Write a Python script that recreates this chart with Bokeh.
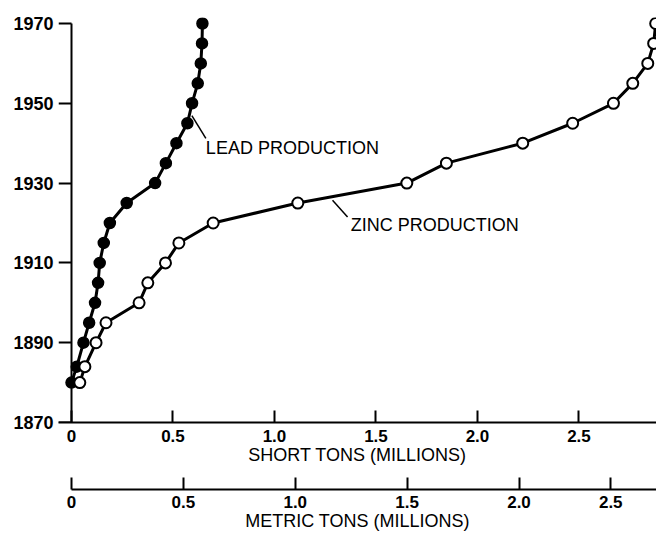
from bokeh.plotting import figure
from bokeh.models import (Range1d, LinearAxis, FixedTicker, CustomJSTickFormatter,
                          Label, ColumnDataSource)
from bokeh.embed import file_html
from bokeh.resources import INLINE

# ---- data ----
years = [1880, 1884, 1890, 1895, 1900, 1905, 1910, 1915, 1920, 1925,
         1930, 1935, 1940, 1945, 1950, 1955, 1960, 1965, 1970]
lead_short_tons = [0.0, 0.026, 0.059, 0.087, 0.116, 0.131, 0.139, 0.159, 0.189, 0.272,
                   0.412, 0.465, 0.517, 0.571, 0.594, 0.622, 0.637, 0.643, 0.645]
zinc_short_tons = [0.041, 0.066, 0.121, 0.170, 0.333, 0.376, 0.463, 0.529, 0.698, 1.115,
                   1.652, 1.847, 2.223, 2.469, 2.670, 2.765, 2.839, 2.868, 2.878]

year_ticks = [1870, 1890, 1910, 1930, 1950, 1970]
short_ticks = [0, 0.5, 1.0, 1.5, 2.0, 2.5]
short_tick_labels = ["0", "0.5", "1.0", "1.5", "2.0", "2.5"]
metric_ticks = [0, 0.5, 1.0, 1.5, 2.0, 2.41]
metric_tick_labels = ["0", "0.5", "1.0", "1.5", "2.0", "2.5"]
SHORT_TO_METRIC = 0.907185

# annotation anchors
lead_label = ("LEAD PRODUCTION", 0.662, 1938.7)
zinc_label = ("ZINC PRODUCTION", 1.376, 1919.4)
leader_x0 = [0.593, 1.286]
leader_y0 = [1946.9, 1925.7]
leader_x1 = [0.662, 1.360]
leader_y1 = [1941.2, 1921.5]

X_START, X_END = -0.064, 2.882
Y_START, Y_END = 1870, 1971.5
FONT = "Liberation Sans"

p = figure(width=656, height=533, output_backend="svg", toolbar_location=None,
           x_range=Range1d(X_START, X_END), y_range=Range1d(Y_START, Y_END),
           x_axis_type=None, y_axis_type=None,
           min_border_left=58, min_border_right=0, min_border_top=17, min_border_bottom=0)
p.outline_line_color = None
p.background_fill_color = "white"
p.border_fill_color = "white"
p.extra_x_ranges = {"metric": Range1d(X_START * SHORT_TO_METRIC, X_END * SHORT_TO_METRIC)}

# year labels (left panel, no line/ticks)
ylabels = LinearAxis(ticker=FixedTicker(ticks=year_ticks), axis_line_color=None,
                     major_tick_line_color=None, minor_tick_line_color=None,
                     major_tick_in=0, major_tick_out=0, major_label_standoff=5,
                     major_label_text_font=FONT, major_label_text_font_size="18px",
                     major_label_text_font_style="bold", major_label_text_color="black")
p.add_layout(ylabels, "left")

# y axis line and ticks at x = 0
yaxis = LinearAxis(ticker=FixedTicker(ticks=year_ticks), fixed_location=0, bounds=(1870, 1970),
                   axis_line_width=2, major_tick_line_width=2, major_tick_in=0, major_tick_out=13,
                   minor_tick_line_color=None, major_label_standoff=0,
                   major_label_text_font_size="0px", major_label_text_color=None)
p.add_layout(yaxis, "left")

short_axis = LinearAxis(ticker=FixedTicker(ticks=short_ticks),
                        formatter=CustomJSTickFormatter(args=dict(labels=short_tick_labels),
                                                        code="return labels[index]"),
                        axis_label="SHORT TONS (MILLIONS)", axis_label_standoff=0,
                        axis_label_text_font=FONT, axis_label_text_font_size="18px",
                        axis_label_text_font_style="normal", axis_label_text_color="black",
                        axis_line_width=2, major_tick_line_width=2, major_tick_in=12, major_tick_out=0,
                        minor_tick_line_color=None, major_label_standoff=7,
                        major_label_text_font=FONT, major_label_text_font_size="17px",
                        major_label_text_font_style="bold", major_label_text_color="black")
p.add_layout(short_axis, "below")

# empty band between the two horizontal scales (blank, white title only)
spacer = LinearAxis(ticker=FixedTicker(ticks=[]), axis_line_color=None,
                    major_tick_line_color=None, minor_tick_line_color=None,
                    major_tick_in=0, major_tick_out=0, major_label_standoff=0,
                    axis_label=" ", axis_label_standoff=8, axis_label_text_font=FONT,
                    axis_label_text_font_size="10px", axis_label_text_color="white")
p.add_layout(spacer, "below")

metric_axis = LinearAxis(x_range_name="metric", ticker=FixedTicker(ticks=metric_ticks),
                         formatter=CustomJSTickFormatter(args=dict(labels=metric_tick_labels),
                                                         code="return labels[index]"),
                         bounds=(0, X_END * SHORT_TO_METRIC),
                         axis_label="METRIC TONS (MILLIONS)", axis_label_standoff=0,
                         axis_label_text_font=FONT, axis_label_text_font_size="18px",
                         axis_label_text_font_style="normal", axis_label_text_color="black",
                         axis_line_width=2, major_tick_line_width=2, major_tick_in=12, major_tick_out=0,
                         minor_tick_line_color=None, major_label_standoff=6,
                         major_label_text_font=FONT, major_label_text_font_size="17px",
                         major_label_text_font_style="bold", major_label_text_color="black")
p.add_layout(metric_axis, "below")

src = ColumnDataSource(dict(year=years, lead=lead_short_tons, zinc=zinc_short_tons))
p.line("lead", "year", source=src, line_width=3, line_color="black")
p.scatter("lead", "year", source=src, size=11, fill_color="black", line_color="black", line_width=1.5)
p.line("zinc", "year", source=src, line_width=3, line_color="black")
p.scatter("zinc", "year", source=src, size=11, fill_color="white", line_color="black", line_width=2)

p.segment(x0=leader_x0, y0=leader_y0, x1=leader_x1, y1=leader_y1, line_width=1.5, line_color="black")

for txt, lx, ly in (lead_label, zinc_label):
    p.add_layout(Label(x=lx, y=ly, text=txt, text_font=FONT, text_font_size="18px",
                       text_baseline="middle", text_align="left", text_color="black"))

open("out.html", "w").write(file_html(p, INLINE))
